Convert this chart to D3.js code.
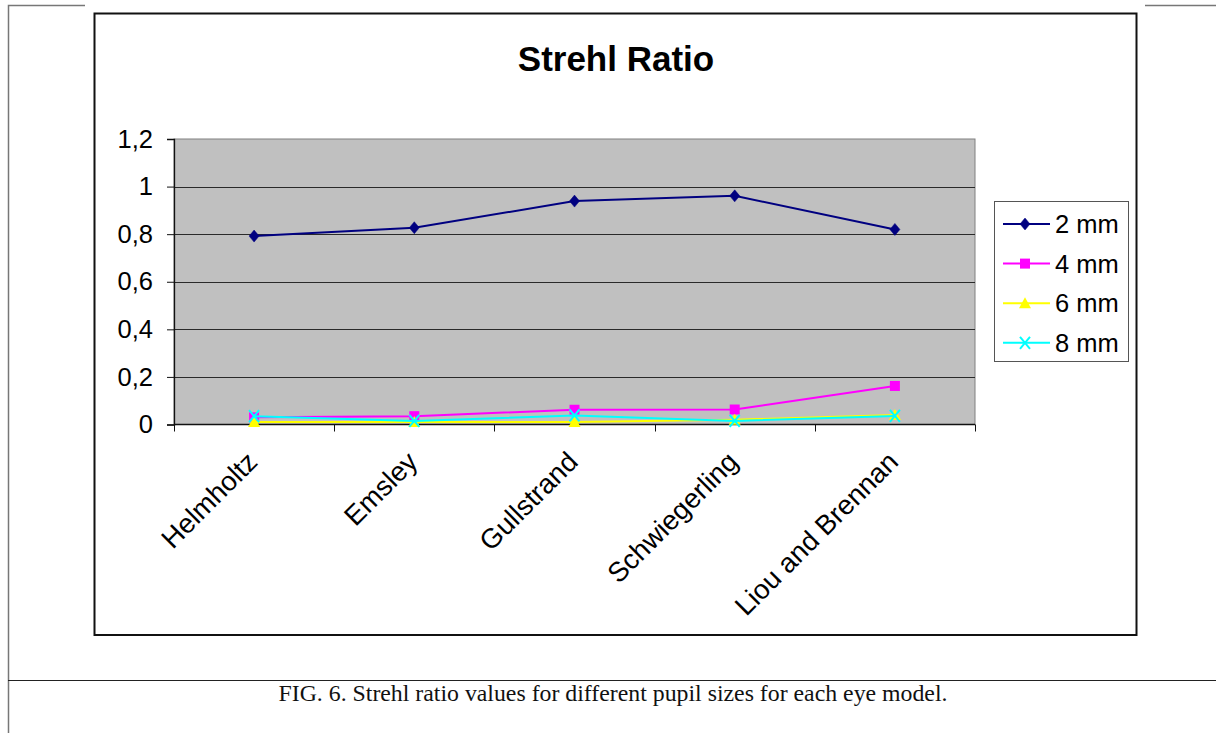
<!DOCTYPE html>
<html>
<head>
<meta charset="utf-8">
<script src="https://cdn.jsdelivr.net/npm/d3@7"></script>
<style>
  body { margin: 0; background: #fff; }
  svg { display: block; }
</style>
</head>
<body>
<svg id="chart" width="1216" height="733"></svg>
<script>
// Eye models along the x axis
const models = ["Helmholtz", "Emsley", "Gullstrand", "Schwiegerling", "Liou and Brennan"];
// Strehl ratio per pupil size
const pupil2mm = [0.792, 0.827, 0.939, 0.961, 0.820];
const pupil4mm = [0.030, 0.035, 0.062, 0.063, 0.162];
const pupil6mm = [0.010, 0.010, 0.010, 0.020, 0.040];
const pupil8mm = [0.035, 0.015, 0.038, 0.015, 0.036];
const seriesNames = ["2 mm", "4 mm", "6 mm", "8 mm"];
const yTicks = [0, 0.2, 0.4, 0.6, 0.8, 1, 1.2];
const captionText = "FIG. 6. Strehl ratio values for different pupil sizes for each eye model.";

const series = [
  { name: seriesNames[0], values: pupil2mm, color: "#000080", symbol: "diamond" },
  { name: seriesNames[1], values: pupil4mm, color: "#ff00ff", symbol: "square" },
  { name: seriesNames[2], values: pupil6mm, color: "#ffff00", symbol: "triangle" },
  { name: seriesNames[3], values: pupil8mm, color: "#00ffff", symbol: "cross" }
];

const svg = d3.select("#chart");
const sans = "'Liberation Sans', Arial, sans-serif";
const labelSize = 25.5;

// Page rules around the figure
const rule = svg.append("g").attr("stroke", "#777").attr("stroke-width", 1.5).attr("fill", "none");
rule.append("path").attr("d", "M8.5,733 V5.5 H85");
rule.append("path").attr("d", "M1145,5.5 H1216");
svg.append("line").attr("x1", 8).attr("x2", 1216).attr("y1", 680.5).attr("y2", 680.5)
  .attr("stroke", "#222").attr("stroke-width", 1.2);

// Caption
svg.append("text").attr("x", 613).attr("y", 701).attr("text-anchor", "middle")
  .attr("font-family", "'Liberation Serif', 'Times New Roman', serif").attr("font-size", 23.8)
  .attr("fill", "#111").text(captionText);

// Chart frame
svg.append("rect").attr("x", 94.5).attr("y", 13.5).attr("width", 1042).attr("height", 621.5)
  .attr("fill", "#fff").attr("stroke", "#111").attr("stroke-width", 2);

// Title
svg.append("text").attr("x", 616).attr("y", 71).attr("text-anchor", "middle")
  .attr("font-family", sans).attr("font-size", 35).attr("font-weight", "bold")
  .attr("fill", "#000").text("Strehl Ratio");

// Plot area
const plot = { left: 174, right: 975, top: 139, bottom: 424.5 };
const x = d3.scaleBand().domain(models).range([plot.left, plot.right]);
const y = d3.scaleLinear().domain([0, 1.2]).range([plot.bottom, plot.top]);

svg.append("rect").attr("x", plot.left).attr("y", plot.top)
  .attr("width", plot.right - plot.left).attr("height", plot.bottom - plot.top)
  .attr("fill", "#c0c0c0").attr("stroke", "#808080").attr("stroke-width", 1);

// Horizontal gridlines
svg.append("g").selectAll("line").data(yTicks.filter(t => t > 0 && t < 1.2)).join("line")
  .attr("x1", plot.left).attr("x2", plot.right)
  .attr("y1", d => Math.round(y(d)) + 0.5).attr("y2", d => Math.round(y(d)) + 0.5)
  .attr("stroke", "#2a2a2a").attr("stroke-width", 1.1);

// Y axis
const yAxis = svg.append("g").attr("transform", `translate(${plot.left},0)`)
  .call(d3.axisLeft(y).tickValues(yTicks).tickSize(7).tickPadding(14)
    .tickFormat(d => String(d).replace(".", ",")));
yAxis.select(".domain").attr("stroke", "#111").attr("stroke-width", 1.3);
yAxis.selectAll(".tick line").attr("stroke", "#111");
yAxis.selectAll("text").attr("font-family", sans).attr("font-size", labelSize).attr("fill", "#000");

// X axis with tick marks on category boundaries
const xAxisG = svg.append("g").attr("transform", `translate(0,${plot.bottom})`);
xAxisG.append("line").attr("x1", plot.left).attr("x2", plot.right)
  .attr("stroke", "#111").attr("stroke-width", 1.5);
const bounds = models.map(m => x(m)).concat([x(models[models.length - 1]) + x.bandwidth()]);
xAxisG.selectAll(".bound").data(bounds).join("line").attr("class", "bound")
  .attr("x1", d => Math.round(d) + 0.5).attr("x2", d => Math.round(d) + 0.5)
  .attr("y1", 0).attr("y2", 7).attr("stroke", "#111").attr("stroke-width", 1);
xAxisG.selectAll(".lab").data(models).join("text").attr("class", "lab")
  .attr("transform", d => `translate(${x(d) + x.bandwidth() / 2 + 5},${39}) rotate(-45)`)
  .attr("text-anchor", "end").attr("font-family", sans).attr("font-size", 27.5).attr("fill", "#000")
  .text(d => d);

// Markers
const cx = i => x(models[i]) + x.bandwidth() / 2;
function drawMarker(g, symbol, color, px, py) {
  if (symbol === "diamond") {
    g.append("path").attr("d", `M${px},${py - 6}L${px + 5},${py}L${px},${py + 6}L${px - 5},${py}Z`)
      .attr("fill", color).attr("stroke", color).attr("stroke-width", 0.5);
  } else if (symbol === "square") {
    g.append("rect").attr("x", px - 5).attr("y", py - 5).attr("width", 10).attr("height", 10)
      .attr("fill", color);
  } else if (symbol === "triangle") {
    g.append("path").attr("d", `M${px},${py - 6}L${px + 6},${py + 5}L${px - 6},${py + 5}Z`)
      .attr("fill", color);
  } else {
    g.append("path").attr("d", `M${px - 5},${py - 6}L${px + 5},${py + 6}M${px - 5},${py + 6}L${px + 5},${py - 6}`)
      .attr("stroke", color).attr("stroke-width", 2).attr("fill", "none");
  }
}

const line = d3.line().x((d, i) => cx(i)).y(d => y(d));
series.forEach(s => {
  const g = svg.append("g");
  g.append("path").datum(s.values).attr("d", line)
    .attr("fill", "none").attr("stroke", s.color).attr("stroke-width", 2);
  s.values.forEach((v, i) => drawMarker(g, s.symbol, s.color, cx(i), y(v)));
});

// Legend
const legend = svg.append("g");
legend.append("rect").attr("x", 994.5).attr("y", 201.5).attr("width", 134).attr("height", 160)
  .attr("fill", "#fff").attr("stroke", "#555").attr("stroke-width", 1);
series.forEach((s, i) => {
  const ly = 224 + i * 39.6;
  const g = legend.append("g");
  g.append("line").attr("x1", 1003).attr("x2", 1050).attr("y1", ly).attr("y2", ly)
    .attr("stroke", s.color).attr("stroke-width", 2);
  drawMarker(g, s.symbol, s.color, 1025, ly);
  g.append("text").attr("x", 1055).attr("y", ly + 9).attr("font-family", sans)
    .attr("font-size", labelSize).attr("fill", "#000").text(s.name);
});
</script>
</body>
</html>
